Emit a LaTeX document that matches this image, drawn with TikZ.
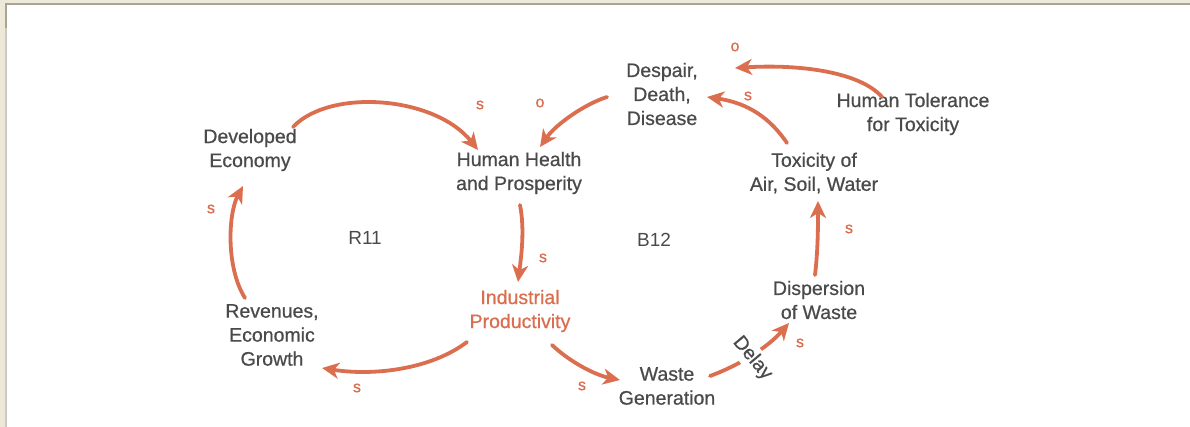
\documentclass[tikz,border=0pt]{standalone}
\usepackage{fontspec}
\setmainfont{Liberation Sans}
\newfontfamily\varfont{Liberation Sans}[FakeBold=0.7]
\usetikzlibrary{arrows.meta}
\definecolor{loopc}{RGB}{218,110,78}
\definecolor{inkc}{RGB}{74,74,74}
\definecolor{rimc}{RGB}{237,233,216}
\definecolor{edgec}{RGB}{168,165,150}

\tikzset{
  var/.style={align=center, text=inkc, inner sep=0pt, font=\varfont\fontsize{19.5}{24}\selectfont},
  link/.style={draw=loopc, line width=3.8, line cap=round, -{Stealth[length=17pt,width=16pt,inset=5pt]}},
  sign/.style={text=loopc, inner sep=0pt, font=\varfont\fontsize{16}{16}\selectfont},
  looptag/.style={text=inkc, inner sep=0pt, font=\fontsize{19}{19}\selectfont},
}

\begin{document}
\begin{tikzpicture}[x=1pt,y=-1pt]
\useasboundingbox (0,0) rectangle (1190,427);

%Shape: Frame [id:dp3305718224196173] 
\fill [rimc] (0,0) rectangle (1190,3) ;
\fill [rimc] (0,0) rectangle (4.5,427) ;
\fill [edgec] (4.5,3) rectangle (1190,5.5) ;
\fill [edgec!60] (4.5,3) rectangle (6.5,427) ;
\fill [edgec] (4.5,3) rectangle (6.5,28) ;

% Text Node
\node [var] (devel) at (250,150) {Developed\\Economy};
% Text Node
\node [var] (health) at (519,173) {Human Health\\and Prosperity};
% Text Node
\node [var] (despair) at (662,94) {Despair,\\Death,\\Disease};
% Text Node
\node [var] (tolerance) at (913,114) {Human Tolerance\\for Toxicity};
% Text Node
\node [var] (toxicity) at (814,173) {Toxicity of\\Air, Soil, Water};
% Text Node
\node [var, text=loopc] (industry) at (520,311) {Industrial\\Productivity};
% Text Node
\node [var] (revenue) at (272,335) {Revenues,\\Economic\\Growth};
% Text Node
\node [var] (dispersion) at (819,300) {Dispersion\\of Waste};
% Text Node
\node [var] (waste) at (667,386) {Waste\\Generation};
% Text Node
\node [looptag] (r11) at (365,238) {R11};
% Text Node
\node [looptag] (b12) at (654,240) {B12};

%Curve Lines [id:da6120457738194426] 
\draw [link] ([shift={(43,-23)}]devel.center) .. controls (330,88) and (435,96) .. ([shift={(-41,-23)}]health.center) ;
%Curve Lines [id:da1849027745930611] 
\draw [link] ([shift={(-55,3)}]despair.center) .. controls (585,104) and (556,124) .. ([shift={(21,-26)}]health.center) ;
%Curve Lines [id:da9572214830316655] 
\draw [link] ([shift={(-31,-17)}]tolerance.center) .. controls (860,72) and (800,64) .. ([shift={(73,-26)}]despair.center) ;
%Curve Lines [id:da2873040066135849] 
\draw [link] ([shift={(-27,-30)}]toxicity.center) .. controls (770,118) and (748,103) .. ([shift={(45,3)}]despair.center) ;
%Curve Lines [id:da7435160892370312] 
\draw [link] ([shift={(1,32)}]health.center) .. controls (525,230) and (521,258) .. ([shift={(-2,-29)}]industry.center) ;
%Curve Lines [id:da4083722164497095] 
\draw [link] ([shift={(-53,31)}]industry.center) .. controls (430,370) and (372,376) .. ([shift={(50,33)}]revenue.center) ;
%Curve Lines [id:da3368100957441178] 
\draw [link] ([shift={(-27,-37)}]revenue.center) .. controls (226,268) and (228,214) .. ([shift={(-7,36)}]devel.center) ;
%Curve Lines [id:da5516939037104487] 
\draw [link] ([shift={(32,34)}]industry.center) .. controls (570,362) and (595,375) .. ([shift={(-47,-6)}]waste.center) ;
%Curve Lines [id:da8841262357705163] 
\draw [link] ([shift={(43,-10)}]waste.center) .. controls (740,365) and (768,347) .. node [pos=0.47, var, fill=white, inner sep=3pt, rotate=-50, xshift=3pt] (delay) {Delay} ([shift={(-30,23)}]dispersion.center) ;
%Curve Lines [id:da1297740032456918] 
\draw [link] ([shift={(-4,-25)}]dispersion.center) .. controls (818,250) and (818,226) .. ([shift={(4,28)}]toxicity.center) ;

% Text Node
\node [sign] (s1) at (480,105) {s};
% Text Node
\node [sign] (o2) at (540,103) {o};
% Text Node
\node [sign] (o3) at (735,47) {o};
% Text Node
\node [sign] (s4) at (748,96) {s};
% Text Node
\node [sign] (s5) at (543,258) {s};
% Text Node
\node [sign] (s6) at (357,388) {s};
% Text Node
\node [sign] (s7) at (211,209) {s};
% Text Node
\node [sign] (s8) at (582,386) {s};
% Text Node
\node [sign] (s9) at (800,343) {s};
% Text Node
\node [sign] (s10) at (849,229) {s};

\end{tikzpicture}
\end{document}
